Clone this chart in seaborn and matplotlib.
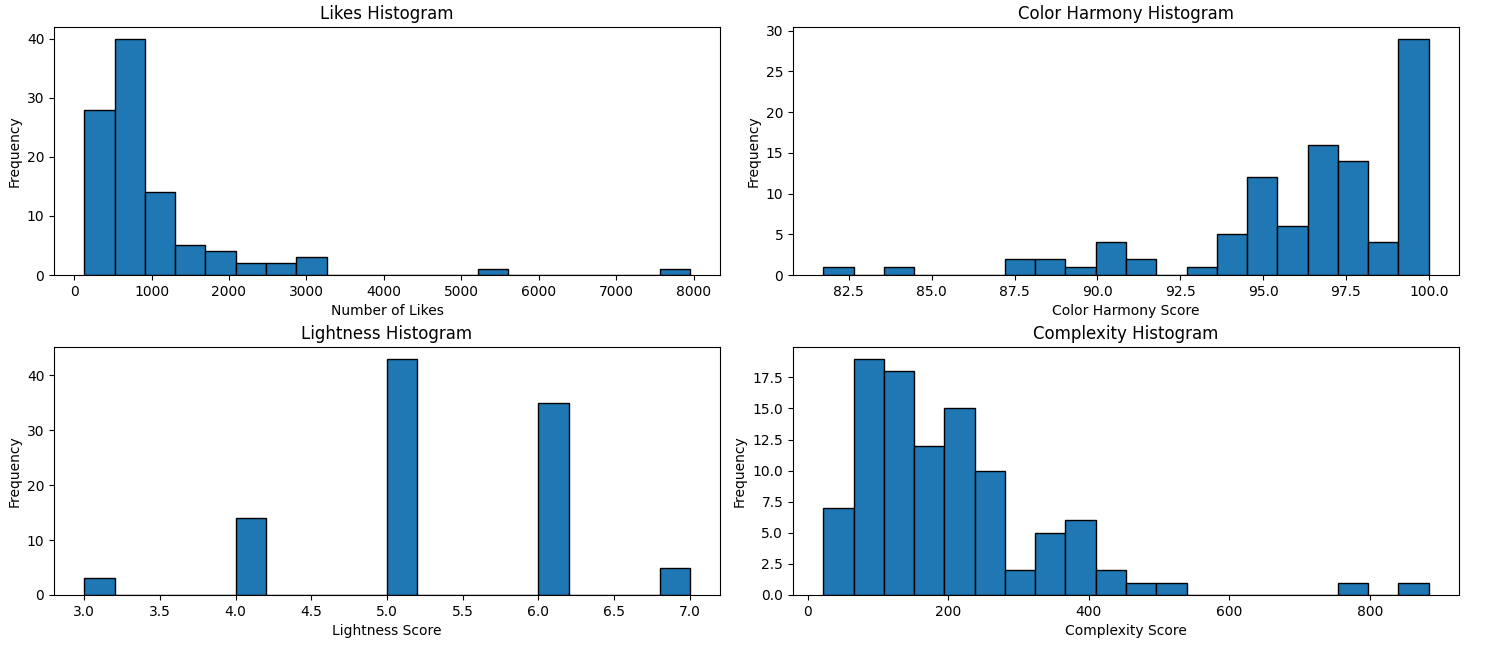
import numpy as np
import pandas as pd
import matplotlib
matplotlib.use("Agg")
import matplotlib.pyplot as plt
import seaborn as sns

# bin ranges and counts (20 bins each)
likes_range = (133, 7947)
likes_counts = [28, 40, 14, 5, 4, 2, 2, 3, 0, 0, 0, 0, 0, 1, 0, 0, 0, 0, 0, 1]

harmony_range = (81.73, 100.0)
harmony_counts = [1, 0, 1, 0, 0, 0, 2, 2, 1, 4, 2, 0, 1, 5, 12, 6, 16, 14, 4, 29]

lightness_range = (3.0, 7.0)
lightness_counts = [3, 0, 0, 0, 0, 14, 0, 0, 0, 0, 43, 0, 0, 0, 0, 35, 0, 0, 0, 5]

complexity_range = (21.9, 883.9)
complexity_counts = [7, 19, 18, 12, 15, 10, 2, 5, 6, 2, 1, 1, 0, 0, 0, 0, 0, 1, 0, 1]

panels = [
    ("Likes Histogram", "Number of Likes", likes_range, likes_counts),
    ("Color Harmony Histogram", "Color Harmony Score", harmony_range, harmony_counts),
    ("Lightness Histogram", "Lightness Score", lightness_range, lightness_counts),
    ("Complexity Histogram", "Complexity Score", complexity_range, complexity_counts),
]

fig, axes = plt.subplots(2, 2, figsize=(15.06, 6.63), dpi=100)
fig.subplots_adjust(left=0.0359, right=0.9688, top=0.9593, bottom=0.1026,
                    wspace=0.1096, hspace=0.290)

for ax, (title, xlabel, rng, counts) in zip(axes.flat, panels):
    edges = np.linspace(rng[0], rng[1], len(counts) + 1)
    centers = (edges[:-1] + edges[1:]) / 2
    df = pd.DataFrame({"x": centers, "w": counts})
    sns.histplot(data=df, x="x", weights="w", bins=len(counts), binrange=rng, ax=ax,
                 color="#1f77b4", edgecolor="black", alpha=1, linewidth=1)
    ax.set_title(title)
    ax.set_xlabel(xlabel)
    ax.set_ylabel("Frequency")

plt.savefig("out.png")
